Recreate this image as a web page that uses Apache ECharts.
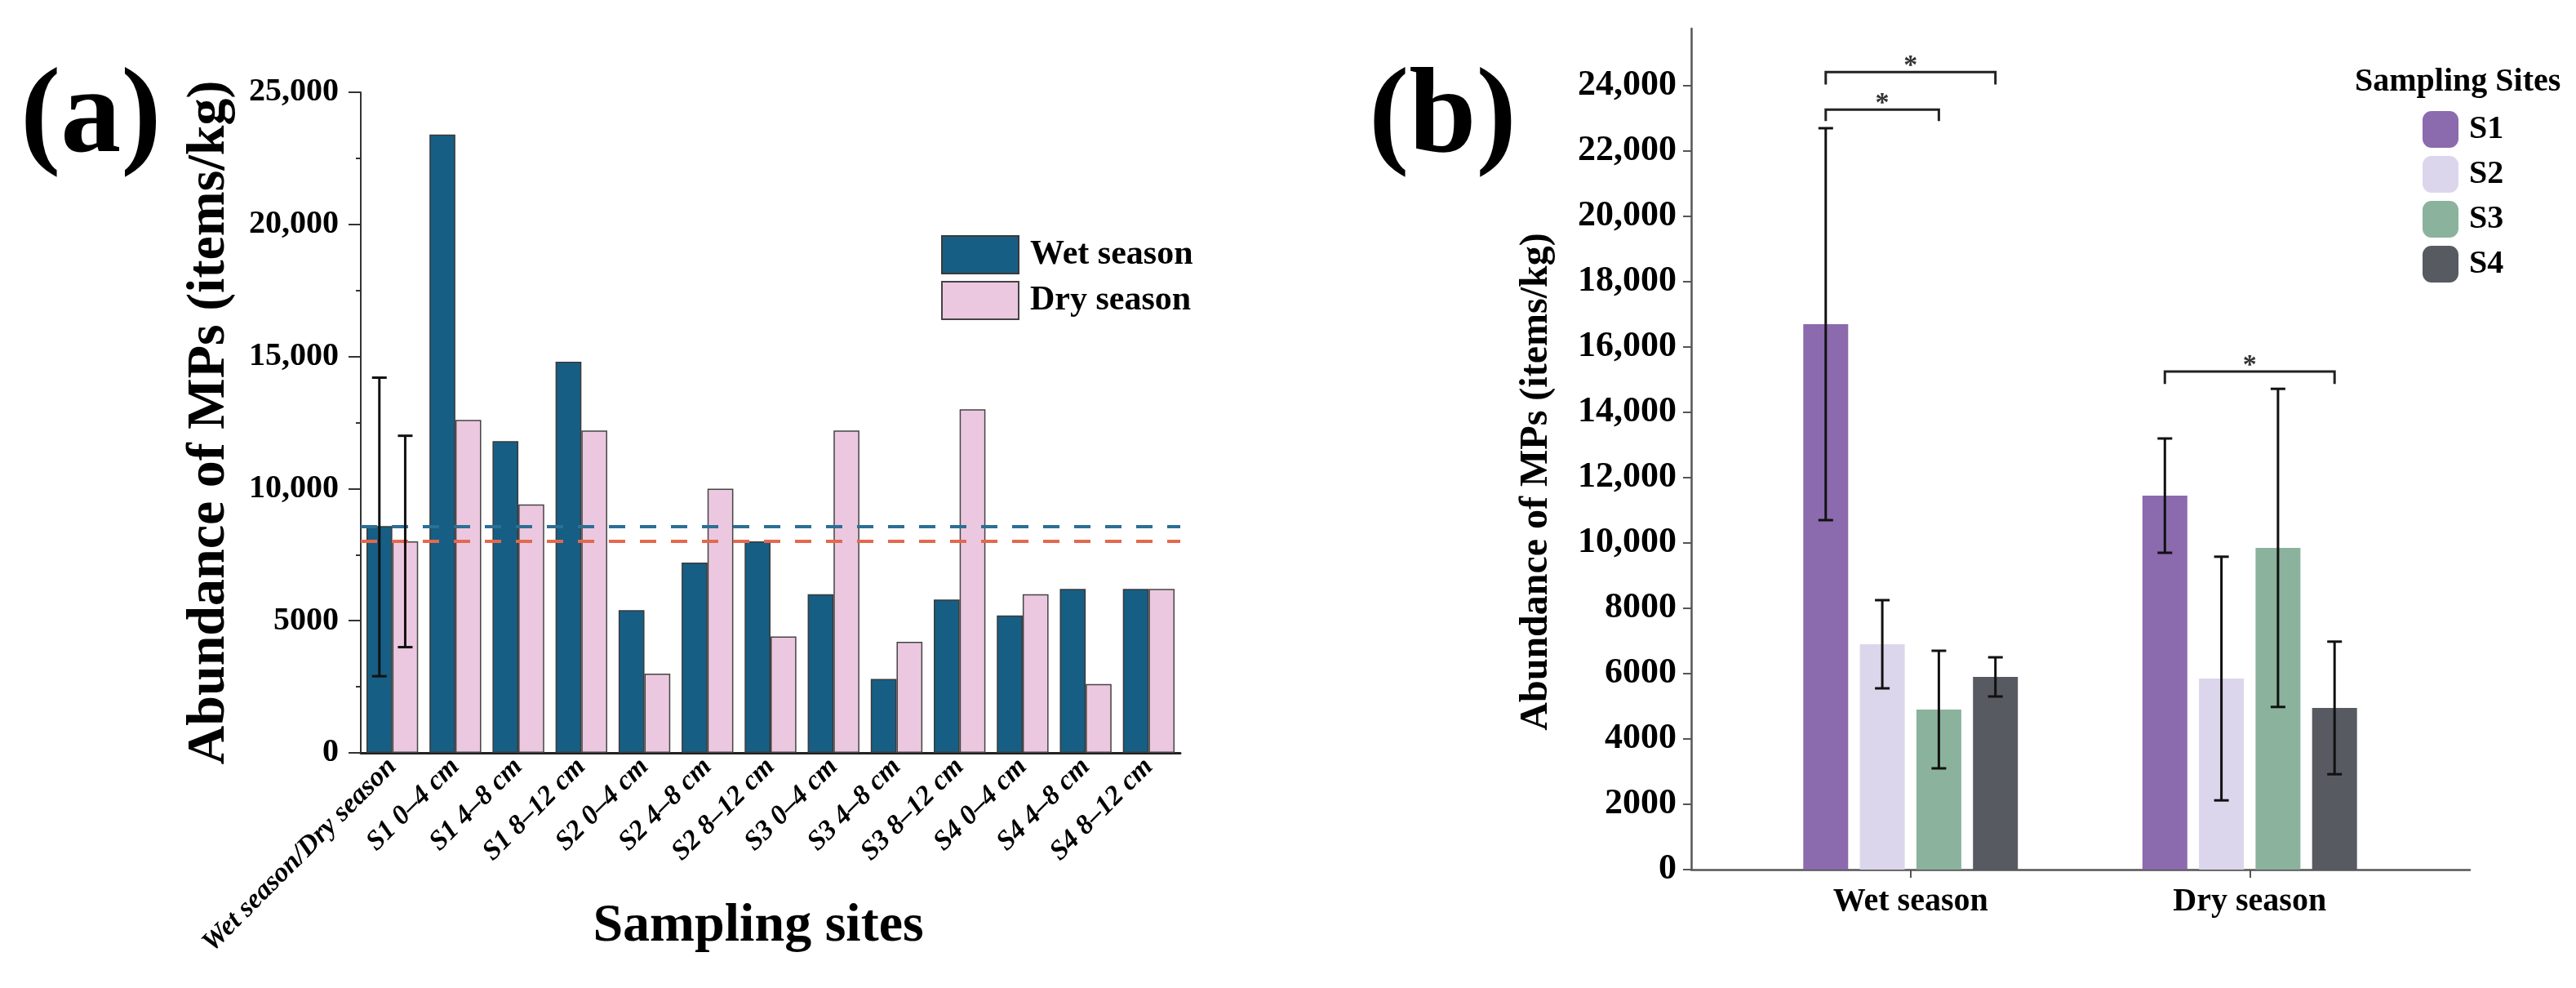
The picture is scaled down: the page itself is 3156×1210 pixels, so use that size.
<!DOCTYPE html>
<html>
<head>
<meta charset="utf-8">
<script src="https://cdn.jsdelivr.net/npm/echarts@6/dist/echarts.min.js"></script>
<style>
  html, body { margin: 0; padding: 0; background: #fff; }
  #chart { width: 3156px; height: 1210px; }
</style>
</head>
<body>
<div id="chart"></div>
<script>
// panel (a): abundance per sampling site and depth
const depthSites = ['Wet season/Dry season', 'S1 0–4 cm', 'S1 4–8 cm', 'S1 8–12 cm', 'S2 0–4 cm', 'S2 4–8 cm',
  'S2 8–12 cm', 'S3 0–4 cm', 'S3 4–8 cm', 'S3 8–12 cm', 'S4 0–4 cm', 'S4 4–8 cm', 'S4 8–12 cm'];
const wetValues = [8580, 23400, 11800, 14800, 5400, 7200, 8000, 6000, 2800, 5800, 5200, 6200, 6200];
const dryValues = [8000, 12600, 9400, 12200, 3000, 10000, 4400, 12200, 4200, 13000, 6000, 2600, 6200];
const overallLow = [2900, 4000];   // wet, dry
const overallHigh = [14200, 12000];
const wetMean = 8580;
const dryMean = 8000;

// panel (b): mean abundance per site and season
const seasons = ['Wet season', 'Dry season'];
const sites = ['S1', 'S2', 'S3', 'S4'];
const siteWet = [16700, 6900, 4900, 5900];
const siteDry = [11450, 5850, 9850, 4950];
const sdWet = [6000, 1350, 1800, 600];
const sdDry = [1750, 3730, 4870, 2030];
const rightTicks = [0, 2000, 4000, 6000, 8000, 10000, 12000, 14000, 16000, 18000, 20000, 22000, 24000];
// [season, from site, to site, bracket y, leg end y, star y]
const sigPairs = [
  [0, 0, 3, 24420, 24040, 24800],
  [0, 0, 2, 23270, 22920, 23640],
  [1, 0, 3, 15250, 14870, 15620]
];

const serif = '"Liberation Serif", "Times New Roman", serif';
const siteColors = ['#8b6aae', '#dcd6ec', '#8bb29d', '#585a62'];
const rightBarW = 55;
const rightStep = 69.3;

function fmt(v) {
  return v >= 10000 ? String(v).replace(/\B(?=(\d{3})+(?!\d))/g, ',') : String(v);
}

const chart = echarts.init(document.getElementById('chart'));

function leftErrors(params, api) {
  const idx = api.value(0);
  const side = api.value(3);
  const band = api.size([1, 0])[0];
  const barW = band * 0.82 / 2;
  const lo = api.coord([idx, api.value(1)]);
  const hi = api.coord([idx, api.value(2)]);
  const x = lo[0] + side * barW / 2;
  const cap = 9;
  const st = { stroke: '#111', lineWidth: 3 };
  return {
    type: 'group',
    children: [
      { type: 'line', shape: { x1: x, y1: lo[1], x2: x, y2: hi[1] }, style: st },
      { type: 'line', shape: { x1: x - cap, y1: lo[1], x2: x + cap, y2: lo[1] }, style: st },
      { type: 'line', shape: { x1: x - cap, y1: hi[1], x2: x + cap, y2: hi[1] }, style: st }
    ]
  };
}

function rightErrors(params, api) {
  const j = api.value(0);
  const i = api.value(1);
  const lo = api.coord([j, api.value(2)]);
  const hi = api.coord([j, api.value(3)]);
  const x = lo[0] + (i - 1.5) * rightStep;
  const cap = 9;
  const st = { stroke: '#111', lineWidth: 3 };
  return {
    type: 'group',
    children: [
      { type: 'line', shape: { x1: x, y1: lo[1], x2: x, y2: hi[1] }, style: st },
      { type: 'line', shape: { x1: x - cap, y1: lo[1], x2: x + cap, y2: lo[1] }, style: st },
      { type: 'line', shape: { x1: x - cap, y1: hi[1], x2: x + cap, y2: hi[1] }, style: st }
    ]
  };
}

function brackets(params, api) {
  const j = api.value(0);
  const p = api.coord([j, api.value(3)]);
  const leg = api.coord([j, api.value(4)]);
  const star = api.coord([j, api.value(5)]);
  const x1 = p[0] + (api.value(1) - 1.5) * rightStep;
  const x2 = p[0] + (api.value(2) - 1.5) * rightStep;
  const st = { stroke: '#222', lineWidth: 3, fill: null };
  return {
    type: 'group',
    children: [
      { type: 'polyline', shape: { points: [[x1, leg[1]], [x1, p[1]], [x2, p[1]], [x2, leg[1]]] }, style: st },
      {
        type: 'text',
        style: {
          text: '*', x: (x1 + x2) / 2, y: star[1] + 8, align: 'center', verticalAlign: 'middle',
          font: 'bold 34px ' + serif, fill: '#333'
        }
      }
    ]
  };
}

const errLeftData = [[0, overallLow[0], overallHigh[0], -1], [0, overallLow[1], overallHigh[1], 1]];
const errRightData = [];
sites.forEach(function (s, i) {
  errRightData.push([0, i, siteWet[i] - sdWet[i], siteWet[i] + sdWet[i]]);
  errRightData.push([1, i, siteDry[i] - sdDry[i], siteDry[i] + sdDry[i]]);
});

const option = {
  backgroundColor: '#fff',
  animation: false,
  textStyle: { fontFamily: serif, color: '#000' },
  title: [
    { text: '(a)', left: 20, top: 68, textStyle: { fontFamily: serif, fontSize: 148, fontWeight: 'bold', color: '#000' } },
    { text: '(b)', left: 1672, top: 68, textStyle: { fontFamily: serif, fontSize: 148, fontWeight: 'bold', color: '#000' } },
    { text: 'Sampling Sites', left: 2880, top: 76, textStyle: { fontFamily: serif, fontSize: 40, fontWeight: 'bold', color: '#000' } }
  ],
  legend: [
    {
      data: ['Wet season', 'Dry season'],
      orient: 'vertical', left: 1148, top: 283,
      itemWidth: 94, itemHeight: 46, itemGap: 8, icon: 'rect',
      textStyle: { fontFamily: serif, fontSize: 42, fontWeight: 'bold', color: '#000', padding: [0, 0, 0, 9] }
    },
    {
      data: sites,
      orient: 'vertical', left: 2963, top: 131,
      itemWidth: 44, itemHeight: 45, itemGap: 10, icon: 'roundRect',
      textStyle: { fontFamily: serif, fontSize: 40, fontWeight: 'bold', color: '#000', padding: [0, 0, 0, 8] }
    }
  ],
  grid: [
    { left: 442, top: 113, width: 1004, height: 809, outerBoundsMode: 'none' },
    { left: 2072, top: 35, width: 954, height: 1030, outerBoundsMode: 'none' },
    { left: 2133, top: 35, width: 831, height: 1030, outerBoundsMode: 'none' }
  ],
  xAxis: [
    {
      type: 'category', gridIndex: 0, data: depthSites,
      name: 'Sampling sites', nameLocation: 'middle', nameGap: 180, nameMoveOverlap: false,
      nameTextStyle: { fontFamily: serif, fontSize: 66, fontWeight: 'bold', color: '#000', padding: [0, 30, 0, 0] },
      axisLine: { lineStyle: { color: '#222', width: 3 } },
      axisTick: { alignWithLabel: true, length: 15, lineStyle: { color: '#222', width: 2 } },
      axisLabel: {
        interval: 0, rotate: 45, margin: 12, fontFamily: serif, fontSize: 34,
        fontWeight: 'bold', fontStyle: 'italic', color: '#000'
      }
    },
    {
      type: 'value', gridIndex: 1, min: 0, max: 1,
      axisLine: { lineStyle: { color: '#555', width: 2.5 } },
      axisTick: { show: false }, axisLabel: { show: false }, splitLine: { show: false }
    },
    {
      type: 'category', gridIndex: 2, data: seasons,
      axisLine: { show: false },
      axisTick: { show: true, alignWithLabel: true, length: 10, lineStyle: { color: '#555', width: 2 } },
      axisLabel: { margin: 20, fontFamily: serif, fontSize: 40, fontWeight: 'bold', color: '#000' }
    }
  ],
  yAxis: [
    {
      type: 'value', gridIndex: 0, min: 0, max: 25000, interval: 5000,
      name: 'Abundance of MPs (items/kg)', nameLocation: 'middle', nameGap: 152, nameMoveOverlap: false,
      nameTextStyle: { fontFamily: serif, fontSize: 66, fontWeight: 'bold', color: '#000' },
      axisLine: { show: true, lineStyle: { color: '#333', width: 2 } },
      axisTick: { show: true, length: 15, lineStyle: { color: '#333', width: 2 } },
      minorTick: { show: true, splitNumber: 2, length: 6, lineStyle: { color: '#333', width: 2 } },
      axisLabel: { margin: 27, fontFamily: serif, fontSize: 40, fontWeight: 'bold', color: '#000', formatter: fmt },
      splitLine: { show: false }
    },
    {
      type: 'value', gridIndex: 1, min: 0, max: 25750,
      name: 'Abundance of MPs (items/kg)', nameLocation: 'middle', nameGap: 165, nameMoveOverlap: false,
      nameTextStyle: { fontFamily: serif, fontSize: 48, fontWeight: 'bold', color: '#000', padding: [0, 80, 0, 0] },
      axisLine: { show: true, lineStyle: { color: '#555', width: 2.5 } },
      axisTick: { show: true, length: 10, customValues: rightTicks, lineStyle: { color: '#555', width: 2 } },
      axisLabel: {
        margin: 18, customValues: rightTicks, fontFamily: serif, fontSize: 44,
        fontWeight: 'bold', color: '#000', formatter: fmt
      },
      splitLine: { show: false }
    },
    {
      type: 'value', gridIndex: 2, min: 0, max: 25750, show: false, splitLine: { show: false }
    }
  ],
  series: [
    {
      name: 'Wet season', type: 'bar', xAxisIndex: 0, yAxisIndex: 0, data: wetValues,
      barGap: '0%', barCategoryGap: '18%',
      itemStyle: { color: '#175e84', borderColor: '#3a3a3a', borderWidth: 1.5 },
      markLine: {
        silent: true, symbol: 'none', label: { show: false },
        lineStyle: { color: '#2d6f95', width: 4, type: [20, 18] },
        data: [{ yAxis: wetMean }]
      }
    },
    {
      name: 'Dry season', type: 'bar', xAxisIndex: 0, yAxisIndex: 0, data: dryValues,
      barGap: '0%', barCategoryGap: '18%',
      itemStyle: { color: '#ecc8e0', borderColor: '#444', borderWidth: 1.5 },
      markLine: {
        silent: true, symbol: 'none', label: { show: false },
        lineStyle: { color: '#e2694f', width: 4, type: [20, 18] },
        data: [{ yAxis: dryMean }]
      }
    },
    {
      type: 'custom', xAxisIndex: 0, yAxisIndex: 0, data: errLeftData,
      renderItem: leftErrors, z: 5, silent: true
    },
    ...sites.map(function (s, i) {
      return {
        name: s, type: 'bar', xAxisIndex: 2, yAxisIndex: 2,
        data: [siteWet[i], siteDry[i]],
        barWidth: rightBarW, barGap: '26%',
        itemStyle: { color: siteColors[i] }
      };
    }),
    {
      type: 'custom', xAxisIndex: 2, yAxisIndex: 2, data: errRightData,
      renderItem: rightErrors, z: 5, silent: true
    },
    {
      type: 'custom', xAxisIndex: 2, yAxisIndex: 2, data: sigPairs,
      renderItem: brackets, z: 5, silent: true, clip: false
    }
  ]
};

chart.setOption(option);
</script>
</body>
</html>
